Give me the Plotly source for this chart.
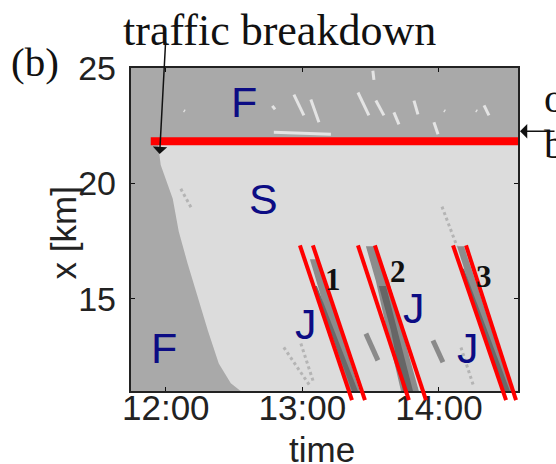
import plotly.graph_objects as go

# ---------------- data (time in decimal hours, x in km) ----------------
x_tick_vals = [12, 13, 14]
x_tick_text = ["12:00", "13:00", "14:00"]
y_tick_vals = [15, 20, 25]

time_range = [11.7436, 14.5788]
km_range = [11, 25]

# synchronized flow (S) region, bounded on the left by the upstream front
s_region_t = [11.941, 11.963, 12.051, 12.095, 12.161, 12.234, 12.308, 12.388,
              12.476, 12.549, 14.5788, 14.5788]
s_region_km = [21.82, 20.79, 19.33, 17.91, 16.50, 15.04, 13.62, 12.20,
               11.34, 11.00, 11.00, 21.82]

# wide moving jams (dark stripes)
jam1_t = [13.055, 13.106, 13.421, 13.341]
jam1_km = [16.71, 16.71, 11.00, 11.00]
jam1_core_t = [13.084, 13.106, 13.407, 13.363]
jam1_core_km = [15.55, 15.55, 11.00, 11.00]
jam2_t = [13.465, 13.531, 13.634, 13.729, 13.853, 13.722, 13.619, 13.538]
jam2_km = [17.27, 17.27, 15.77, 13.62, 11.00, 11.00, 13.62, 15.77]
jam2_core_t = [13.560, 13.612, 13.810, 13.736, 13.648]
jam2_core_km = [15.55, 15.55, 11.00, 11.00, 13.62]
jam3_t = [14.132, 14.183, 14.535, 14.469]
jam3_km = [17.27, 17.27, 11.00, 11.00]
jam3_core_t = [14.160, 14.183, 14.520, 14.480]
jam3_core_km = [16.30, 16.30, 11.00, 11.00]

# narrow dark blobs inside S
blob_t = [13.465, 13.553, None, 13.956, 14.029]
blob_km = [13.49, 12.33, None, 13.19, 12.25]
faint_t = [12.110, 12.190, None, 14.022, 14.132, None, 12.864, 13.062, None,
           12.989, 13.084, None, 14.161, 14.256]
faint_km = [19.76, 18.90, None, 18.99, 17.27, None, 12.89, 11.17, None,
            13.06, 11.34, None, 12.89, 11.17]

# light streaks in the free flow region upstream of the bottleneck
streak_t = [12.938, 13.011, None, 13.062, 13.121, None, 13.407, 13.487, None,
            13.538, 13.597, None, 13.670, 13.707, None, 13.817, 13.846, None,
            13.516, 13.524, None, 14.330, 14.366, None, 13.963, 13.993, None,
            12.780, 12.800, None, 12.791, 13.209, None, 12.132, 12.140, None,
            14.037, 14.045, None, 14.271, 14.279]
streak_km = [23.84, 22.94, None, 23.63, 22.64, None, 23.93, 22.94, None,
             23.58, 22.94, None, 23.07, 22.55, None, 23.58, 22.98, None,
             24.87, 24.48, None, 23.37, 22.94, None, 22.64, 22.12, None,
             23.35, 23.20, None, 22.21, 22.12, None, 23.15, 23.12, None,
             23.15, 23.12, None, 23.15, 23.12]

# bottleneck location (red horizontal line)
bottleneck_km = 21.82
bottleneck_t = [11.890, 14.5788]

# red lines framing jams 1-3
jam_lines_t = [12.982, 13.363, None, 13.077, 13.458, None,
               13.407, 13.780, None, 13.531, 13.905, None,
               14.103, 14.491, None, 14.198, 14.564]
jam_lines_km = [17.31, 10.61, None, 17.31, 10.61, None,
                17.31, 10.61, None, 17.31, 10.61, None,
                17.31, 10.61, None, 17.31, 10.61]

labels = [("F", 12.571, 23.50), ("S", 12.718, 19.33), ("F", 11.985, 12.85),
          ("J", 13.026, 13.92), ("J", 13.817, 14.61), ("J", 14.212, 12.85)]
numbers = [("1", 13.223, 15.85), ("2", 13.700, 16.20), ("3", 14.330, 15.98)]

# ---------------- layout geometry ----------------
W, H = 556, 464
# calibration of the photographed page (page px -> picture px)
SX0, SXS, SY0, SYS = 4.7, 0.99, 15.8, 0.967

def px_x(sx):
    return (sx - SX0) / SXS

def px_y(sy):
    return (sy - SY0) / SYS

def paper(sx, sy):
    return px_x(sx) / W, 1 - px_y(sy) / H

PL, PR, PT, PB = px_x(128), px_x(517), px_y(65), px_y(391)
km_per_px = (km_range[1] - km_range[0]) / (PB - PT)
y2_range = [km_range[0] - (H - PB) * km_per_px, km_range[1] + PT * km_per_px]

DARK = "#a9a9a9"
LIGHT = "#dcdcdc"
NAVY = "#0c0c84"
SANS = "Liberation Sans, Arial, sans-serif"
SERIF = "Liberation Serif, Times New Roman, serif"

fig = go.Figure()

def poly(t, km, color):
    fig.add_trace(go.Scatter(x=t, y=km, mode="lines", fill="toself",
                             fillcolor=color, line=dict(width=0, color=color),
                             hoverinfo="skip"))

poly(s_region_t, s_region_km, LIGHT)
poly(jam1_t, jam1_km, "#8c8c8c")
poly(jam1_core_t, jam1_core_km, "#6a6a6a")
poly(jam2_t, jam2_km, "#8c8c8c")
poly(jam2_core_t, jam2_core_km, "#666666")
poly(jam3_t, jam3_km, "#8c8c8c")
poly(jam3_core_t, jam3_core_km, "#6a6a6a")

fig.add_trace(go.Scatter(x=blob_t, y=blob_km, mode="lines",
                         line=dict(color="#8a8a8a", width=5), hoverinfo="skip"))
fig.add_trace(go.Scatter(x=faint_t, y=faint_km, mode="lines",
                         line=dict(color="#b4b4b4", width=3, dash="dot"), hoverinfo="skip"))
fig.add_trace(go.Scatter(x=streak_t, y=streak_km, mode="lines",
                         line=dict(color="#e4e4e4", width=3), hoverinfo="skip"))

fig.add_trace(go.Scatter(x=bottleneck_t, y=[bottleneck_km] * len(bottleneck_t), mode="lines",
                         line=dict(color="#ff0000", width=8), hoverinfo="skip"))

fig.add_trace(go.Scatter(x=jam_lines_t, y=jam_lines_km, mode="lines", yaxis="y2",
                         line=dict(color="#ff0000", width=4), hoverinfo="skip"))

ann = []
for txt, t, km in labels:
    ann.append(dict(x=t, y=km, xref="x", yref="y", text=txt, showarrow=False,
                    xanchor="center", yanchor="middle",
                    font=dict(family=SANS, size=43, color=NAVY)))
for txt, t, km in numbers:
    ann.append(dict(x=t, y=km, xref="x", yref="y", text="<b>" + txt + "</b>", showarrow=False,
                    xanchor="center", yanchor="middle",
                    font=dict(family=SERIF, size=31, color="#111111")))

def text_ann(txt, sx, sy, family, size, xanchor="center", angle=0, color="#111111"):
    x, y = paper(sx, sy)
    ann.append(dict(x=x, y=y, xref="paper", yref="paper", text=txt, showarrow=False,
                    xanchor=xanchor, yanchor="middle", textangle=angle,
                    font=dict(family=family, size=size, color=color)))

text_ann("traffic breakdown", 277, 27, SERIF, 44)
text_ann("(b)", 32, 59, SERIF, 41)
text_ann("on-ramp", 541, 95, SERIF, 41, xanchor="left")
text_ann("bottleneck", 541, 142, SERIF, 41, xanchor="left")
text_ann("time", 320, 450, SANS, 35, color="#222222")
text_ann("x [km]", 60, 232, SANS, 35, angle=-90, color="#222222")

def arrow_ann(head, tail):
    x, y = paper(*head)
    ann.append(dict(x=x, y=y, xref="paper", yref="paper", text="", showarrow=True,
                    ax=(tail[0] - head[0]) / SXS, ay=(tail[1] - head[1]) / SYS,
                    arrowhead=1, arrowsize=1.6, arrowwidth=1.5, arrowcolor="#111111"))

arrow_ann((519, 129), (575, 129))
arrow_ann((157, 152), (163, 42))

fig.update_layout(
    width=W, height=H, autosize=False, margin=dict(l=0, r=0, t=0, b=0),
    paper_bgcolor="white", plot_bgcolor="rgba(0,0,0,0)",
    showlegend=False,
    xaxis=dict(domain=[PL / W, PR / W], range=time_range, tickvals=x_tick_vals,
               ticktext=x_tick_text, ticks="inside", ticklen=4, tickcolor="#111",
               showline=True, linecolor="#222", linewidth=2, mirror="ticks",
               showgrid=False, zeroline=False, ticklabelstandoff=-15,
               tickfont=dict(family=SANS, size=35, color="#222")),
    yaxis=dict(domain=[1 - PB / H, 1 - PT / H], range=km_range, tickvals=y_tick_vals,
               ticks="inside", ticklen=4, tickcolor="#111",
               showline=True, linecolor="#222", linewidth=2, mirror="ticks",
               showgrid=False, zeroline=False, ticklabelstandoff=6,
               tickfont=dict(family=SANS, size=34, color="#222")),
    yaxis2=dict(domain=[0, 1], range=y2_range, anchor="x", visible=False),
    shapes=[dict(type="rect", xref="x domain", yref="y domain", x0=0, x1=1, y0=0, y1=1,
                 fillcolor=DARK, line=dict(width=0), layer="below")],
    annotations=ann,
)

fig.write_html("out.html", config={"responsive": False, "displayModeBar": False},
               post_script="document.body.style.margin='0px';")
